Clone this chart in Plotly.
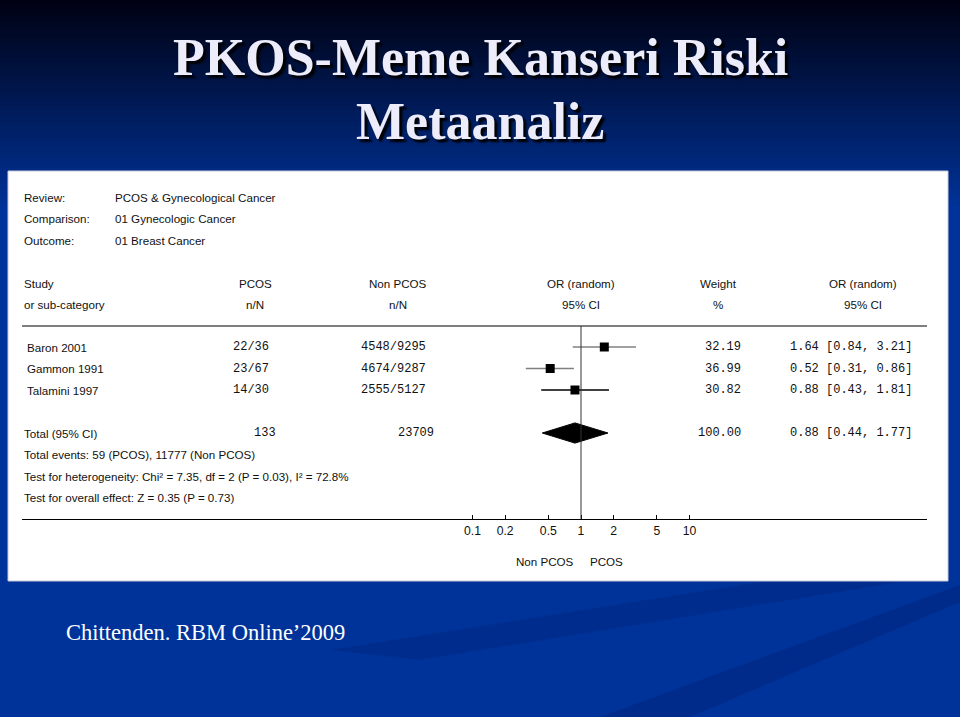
import plotly.graph_objects as go
import numpy as np

# ---------------- data ----------------
studies = ["Baron 2001", "Gammon 1991", "Talamini 1997"]
pcos_nN = ["22/36", "23/67", "14/30"]
nonpcos_nN = ["4548/9295", "4674/9287", "2555/5127"]
or_est = [1.64, 0.52, 0.88]
ci_lo = [0.84, 0.31, 0.43]
ci_hi = [3.21, 0.86, 1.81]
weights = ["32.19", "36.99", "30.82"]
ci_colors = ["#808080", "#808080", "#000000"]

total_label = "Total (95% CI)"
total_pcos = "133"
total_nonpcos = "23709"
total_or = 0.88
total_lo = 0.44
total_hi = 1.77
total_weight = "100.00"

footer_lines = [
    "Total events: 59 (PCOS), 11777 (Non PCOS)",
    "Test for heterogeneity: Chi² = 7.35, df = 2 (P = 0.03), I² = 72.8%",
    "Test for overall effect: Z = 0.35 (P = 0.73)",
]
header_keys = ["Review:", "Comparison:", "Outcome:"]
header_vals = ["PCOS & Gynecological Cancer", "01 Gynecologic Cancer", "01 Breast Cancer"]

tick_vals = [0.1, 0.2, 0.5, 1, 2, 5, 10]
tick_text = ["0.1", "0.2", "0.5", "1", "2", "5", "10"]

title_lines = ["PKOS-Meme Kanseri Riski", "Metaanaliz"]
source = "Chittenden. RBM Online\u20192009"

# ---------------- geometry ----------------
W, H = 960, 717
PX_DEC = 108.5          # pixels per decade on the OR axis
X1_PX = 581             # pixel of OR = 1
AX_L, AX_R = 22, 927    # axis line extent in px
ROW0_PX = 347           # pixel of first study row
ROW_PX = 21.5           # pixel spacing between rows

def px(x):
    return x / W

def row_of(ypix):
    return (ypix - ROW0_PX) / ROW_PX

xrange_log = [(AX_L - X1_PX) / PX_DEC, (AX_R - X1_PX) / PX_DEC]
yrange = [row_of(H), row_of(0)]

rows = list(range(len(studies)))
total_row = len(studies) + 1

BLACK = "#000000"
SANS = "Liberation Sans, Arial, sans-serif"
SANS_SIZE = 11.6
MONO = "Liberation Mono, Courier New, monospace"
SERIF = "Liberation Serif, Times New Roman, serif"
TXT = "#111111"

fig = go.Figure()

# CI lines
for i in rows:
    fig.add_trace(go.Scatter(
        x=[ci_lo[i], ci_hi[i]], y=[i, i], mode="lines",
        line=dict(color=ci_colors[i], width=1.6), hoverinfo="skip", showlegend=False))
# squares
fig.add_trace(go.Scatter(
    x=or_est, y=rows, mode="markers",
    marker=dict(symbol="square", size=9, color=BLACK, line=dict(width=0)),
    showlegend=False))
# diamond
dh = 0.47
fig.add_trace(go.Scatter(
    x=[total_lo, total_or, total_hi, total_or, total_lo],
    y=[total_row, total_row - dh, total_row, total_row + dh, total_row],
    mode="lines", fill="toself", fillcolor=BLACK,
    line=dict(color=BLACK, width=1), showlegend=False, hoverinfo="skip"))

shapes = []
# background gradient at top
n_steps = 40
top_c = np.array([0x00, 0x02, 0x14])
bot_c = np.array([0x00, 0x33, 0x99])
grad_h = 210
for k in range(n_steps):
    t = k / (n_steps - 1)
    c = (top_c * (1 - t) + bot_c * t).astype(int)
    y0 = k * grad_h / n_steps
    y1 = (k + 1) * grad_h / n_steps + 1
    shapes.append(dict(type="rect", xref="paper", yref="paper",
                       x0=0, x1=1, y0=1 - y1 / H, y1=1 - y0 / H,
                       fillcolor="rgb(%d,%d,%d)" % tuple(c), line=dict(width=0), layer="below"))

def poly(pts, color):
    d = "M " + " L ".join("%f %f" % (px(x), 1 - y / H) for x, y in pts) + " Z"
    shapes.append(dict(type="path", xref="paper", yref="paper", path=d,
                       fillcolor=color, line=dict(width=0), layer="below"))

# faint diagonal streaks
poly([(600, 717), (960, 585), (960, 602), (690, 717)], "rgba(0,20,90,0.22)")
poly([(330, 650), (760, 582), (900, 582), (420, 660)], "rgba(0,20,90,0.18)")
# white panel
shapes.append(dict(type="rect", xref="paper", yref="paper",
                   x0=px(8), x1=px(948), y0=1 - 581 / H, y1=1 - 171 / H,
                   fillcolor="white", line=dict(color="#c8c8d8", width=1), layer="below"))
# top rule
shapes.append(dict(type="line", xref="paper", yref="y",
                   x0=px(AX_L), x1=px(AX_R), y0=row_of(326), y1=row_of(326),
                   line=dict(color=BLACK, width=1.2)))
# no-effect line
shapes.append(dict(type="line", xref="x", yref="y",
                   x0=1, x1=1, y0=row_of(326), y1=row_of(519),
                   line=dict(color="#333333", width=1)))

ann = []
def A(text, x, y, xanchor="left", size=SANS_SIZE, font=SANS, color=TXT, yref="paper", **kw):
    yy = y if yref == "y" else 1 - y / H
    d = dict(text=text, x=px(x), y=yy, xref="paper", yref=yref, xanchor=xanchor,
             yanchor="middle", showarrow=False, font=dict(family=font, size=size, color=color))
    d.update(kw)
    ann.append(d)

# title
for j, line in enumerate(title_lines):
    ann.append(dict(text="<b>%s</b>" % line, x=0.5, y=1 - (58 + 63 * j) / H, xref="paper", yref="paper",
                    xanchor="center", yanchor="middle", showarrow=False,
                    font=dict(family=SERIF, size=52, color="#ececfa",
                              shadow="3px 3px 2px #000000")))
# source
A(source, 64, 632, size=22.5, font=SERIF, color="white")

# header block
for j, (k, v) in enumerate(zip(header_keys, header_vals)):
    A(k, 22, 197 + 21.5 * j)
    A(v, 113, 197 + 21.5 * j)
A("Study", 22, 283)
A("or sub-category", 22, 304)
for cx, t1, t2 in [(255, "PCOS", "n/N"), (398, "Non PCOS", "n/N"), (581, "OR (random)", "95% CI"),
                   (718, "Weight", "%"), (863, "OR (random)", "95% CI")]:
    A(t1, cx, 283, xanchor="center")
    A(t2, cx, 304, xanchor="center")

# study rows
for i in rows:
    A(studies[i], 25, i, yref="y")
    A(pcos_nN[i], 271, i, xanchor="right", font=MONO, size=12, yref="y")
    A(nonpcos_nN[i], 428, i, xanchor="right", font=MONO, size=12, yref="y")
    A(weights[i], 743, i, xanchor="right", font=MONO, size=12, yref="y")
    A("%.2f [%.2f, %.2f]" % (or_est[i], ci_lo[i], ci_hi[i]), 788, i, font=MONO, size=12, yref="y")

A(total_label, 22, total_row, yref="y")
A(total_pcos, 278, total_row, xanchor="right", font=MONO, size=12, yref="y")
A(total_nonpcos, 436, total_row, xanchor="right", font=MONO, size=12, yref="y")
A(total_weight, 743, total_row, xanchor="right", font=MONO, size=12, yref="y")
A("%.2f [%.2f, %.2f]" % (total_or, total_lo, total_hi), 788, total_row, font=MONO, size=12, yref="y")
for j, line in enumerate(footer_lines):
    A(line, 22, total_row + 1 + j, yref="y")

A("Non PCOS", 545, 561, xanchor="center")
A("PCOS", 606, 561, xanchor="center")

fig.update_layout(
    width=W, height=H, margin=dict(l=0, r=0, t=0, b=0),
    paper_bgcolor="#003399", plot_bgcolor="rgba(0,0,0,0)",
    shapes=shapes, annotations=ann, showlegend=False,
    xaxis=dict(type="log", range=xrange_log, domain=[px(AX_L), px(AX_R)],
               anchor="free", position=1 - 519 / H,
               tickvals=tick_vals, ticktext=tick_text,
               ticks="inside", ticklen=4, tickcolor=BLACK, tickwidth=1,
               showline=True, linecolor=BLACK, linewidth=1.2,
               showgrid=False, zeroline=False,
               tickfont=dict(family=SANS, size=SANS_SIZE + 0.6, color=TXT)),
    yaxis=dict(range=yrange, domain=[0, 1], visible=False, showgrid=False, zeroline=False),
)

fig.write_html("out.html")
